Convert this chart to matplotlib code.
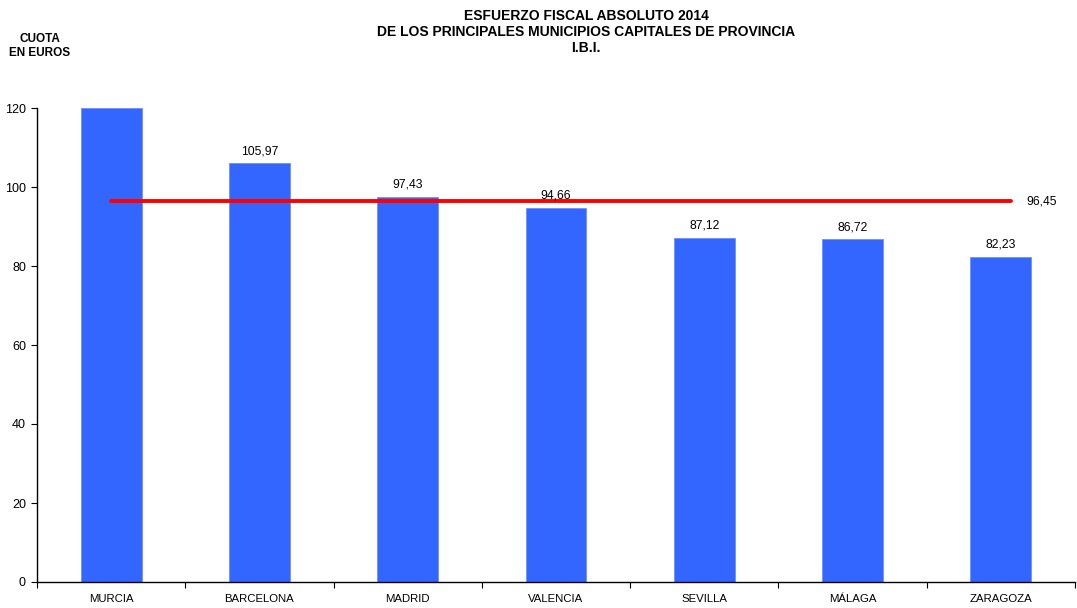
import numpy as np
import matplotlib.pyplot as plt

plt.rcParams['font.family'] = ['Liberation Sans', 'DejaVu Sans']

# Data
cities = ['MURCIA', 'BARCELONA', 'MADRID', 'VALENCIA', 'SEVILLA', 'MÁLAGA', 'ZARAGOZA']
cuota = [120.0, 105.97, 97.43, 94.66, 87.12, 86.72, 82.23]
media = 96.45
yticks = [0, 20, 40, 60, 80, 100, 120]

fig = plt.figure(figsize=(10.77, 6.08), dpi=100)
ax = fig.add_axes([37 / 1077, 26 / 608, 1038 / 1077, 474 / 608])

x = np.arange(len(cities))
ax.bar(x, cuota, width=0.41, color='#3366FF', edgecolor='#6F8FFF', linewidth=0.6, zorder=2)

# data labels (skip the bar clipped by the axis)
for xi, v in zip(x, cuota):
    if v < yticks[-1]:
        ax.text(xi, v + 1.6, f'{v:.2f}'.replace('.', ','), ha='center', va='bottom',
                fontsize=8.7, color='black', zorder=4)

# average line
ax.plot([x[0], x[-1] + 0.07], [media, media], color='#FF0000', lw=2.8,
        solid_capstyle='round', zorder=3)
ax.text(x[-1] + 0.17, media, f'{media:.2f}'.replace('.', ','), ha='left', va='center',
        fontsize=8.7, color='black')

ax.set_xlim(-0.5, len(cities) - 0.5)
ax.set_ylim(0, 120)
ax.set_yticks(yticks)
ax.set_yticklabels([str(t) for t in yticks], fontsize=9)
ax.set_xticks(x)
ax.set_xticklabels(cities, fontsize=8.2)
ax.tick_params(axis='x', length=0, pad=9)
ax.tick_params(axis='y', length=4, width=0.8, pad=4)

# category separators on the x axis
ax.set_xticks(np.arange(-0.5, len(cities), 1.0), minor=True)
ax.tick_params(axis='x', which='minor', length=4, width=0.8, direction='out')

ax.spines[['top', 'right']].set_visible(False)
ax.spines[['left', 'bottom']].set_linewidth(1.0)

fig.text(586 / 1077, 1 - 32 / 608, 'ESFUERZO FISCAL ABSOLUTO 2014\nDE LOS PRINCIPALES MUNICIPIOS CAPITALES DE PROVINCIA\nI.B.I.',
         ha='center', va='center', fontsize=10, weight='bold', linespacing=1.15)
fig.text(40 / 1077, 1 - 46 / 608, 'CUOTA\nEN EUROS', ha='center', va='center',
         fontsize=8.5, weight='bold', linespacing=1.3)

fig.savefig('out.png', dpi=100)
